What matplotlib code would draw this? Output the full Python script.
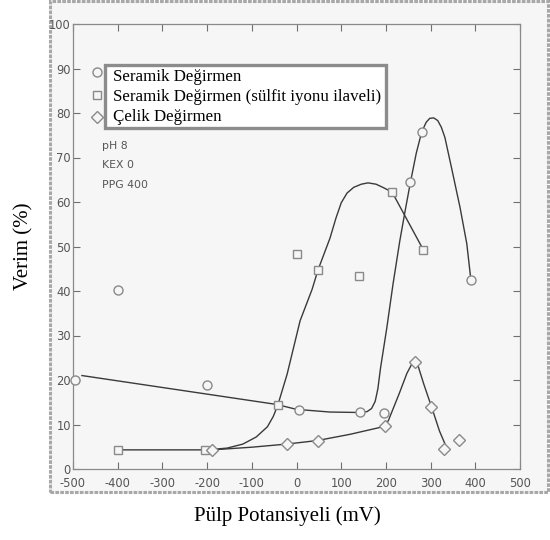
#!/usr/bin/env python3
import matplotlib
matplotlib.use("Agg")
import matplotlib.pyplot as plt
from matplotlib.patches import Rectangle

# ------------------------
# Measured points (read off the scanned figure)
# ------------------------
seramik_x = [-495, -400, -200, 5, 143, 196, 254, 280, 390]
seramik_y = [20.0, 40.3, 18.9, 13.3, 12.8, 12.5, 64.5, 75.7, 42.5]

sulfit_x = [-400, -205, -42, 0, 48, 140, 214, 284]
sulfit_y = [4.2, 4.2, 14.3, 48.4, 44.7, 43.4, 62.2, 49.2]

celik_x = [-188, -22, 48, 198, 266, 301, 330, 364]
celik_y = [4.3, 5.7, 6.4, 9.6, 24.0, 14.0, 4.5, 6.5]

# hand drawn trend curves
seramik_curve_x = [-480, -44, 0, 75, 140, 158, 168, 176, 182, 188, 202, 216,
                   231, 243, 255, 268, 280, 290, 298, 307, 316, 324, 332,
                   347, 366, 381, 389]
seramik_curve_y = [21.0, 14.5, 13.4, 12.8, 12.7, 12.9, 13.6, 15.2, 18.0, 22.7,
                   31.7, 41.6, 51.2, 58.0, 64.5, 71.0, 75.7, 77.9, 78.8, 78.9,
                   78.3, 76.8, 74.5, 67.6, 58.7, 50.6, 43.5]

sulfit_curve_x = [-400, -200, -155, -120, -90, -65, -52, -42, -21, 8, 35, 48,
                  75, 88, 100, 113, 128, 145, 160, 178, 195, 214, 284]
sulfit_curve_y = [4.3, 4.3, 4.7, 5.6, 7.2, 9.5, 11.8, 14.3, 21.3, 33.3, 40.4,
                  44.7, 51.9, 56.3, 59.8, 62.0, 63.3, 64.0, 64.3, 64.0, 63.2,
                  62.2, 49.2]

celik_curve_x = [-189, -100, -22, 47, 120, 198, 206, 214, 230, 247, 257, 264,
                 270, 285, 303, 320, 337]
celik_curve_y = [4.3, 4.9, 5.6, 6.4, 7.8, 9.6, 11.0, 13.0, 17.0, 21.5, 23.4,
                 24.1, 23.8, 19.0, 13.7, 8.5, 4.5]

legend_labels = ["Seramik Değirmen",
                 "Seramik Değirmen (sülfit iyonu ilaveli)",
                 "Çelik Değirmen"]
cond_labels = ["pH 8", "KEX 0", "PPG 400"]

xticks = list(range(-500, 501, 100))
yticks = list(range(0, 101, 10))

LINE = "#3a3a3a"
MARK = "#8a8a8a"
TICK = "#707070"
PAPER = "#f6f6f6"


def main():
    fig = plt.figure(figsize=(5.5, 5.4), dpi=100)

    # scanned paper area with its grey border
    fig.patches.append(Rectangle((50 / 550, 1 - 492 / 540), 498 / 550, 491 / 540,
                                 transform=fig.transFigure, facecolor=PAPER,
                                 edgecolor="#a8a8a8", linewidth=2.2,
                                 linestyle=(0, (1.2, 0.4)), zorder=-10))

    ax = fig.add_axes([73 / 550, 1 - 469 / 540, 447 / 550, 445 / 540])
    ax.set_zorder(1)
    ax.set_facecolor(PAPER)

    # ------------------------
    # curves
    # ------------------------
    kw = dict(color=LINE, linewidth=1.0, zorder=2)
    ax.plot(seramik_curve_x, seramik_curve_y, **kw)
    ax.plot(sulfit_curve_x, sulfit_curve_y, **kw)
    ax.plot(celik_curve_x, celik_curve_y, **kw)

    # ------------------------
    # markers
    # ------------------------
    mk = dict(linestyle="none", markerfacecolor=PAPER, markeredgecolor=MARK,
              markeredgewidth=1.0, zorder=3, clip_on=False)
    ax.plot(seramik_x, seramik_y, marker="o", markersize=6.5, **mk)
    ax.plot(sulfit_x, sulfit_y, marker="s", markersize=6.2, **mk)
    ax.plot(celik_x, celik_y, marker="D", markersize=6.2, **mk)

    ax.set_xlim(-500, 500)
    ax.set_ylim(0, 100)

    ax.set_xticks(xticks)
    ax.set_yticks(yticks)
    ax.set_xticklabels([str(v) for v in xticks])
    ax.set_yticklabels([str(v) for v in yticks])
    ax.tick_params(direction="in", length=5, width=0.8, color=TICK,
                   labelcolor="#555555", labelsize=8.3,
                   top=True, right=True)
    ax.tick_params(axis="y", pad=1.5)
    ax.tick_params(axis="x", pad=5.5)
    for s in ax.spines.values():
        s.set_color("#8a8a8a")
        s.set_linewidth(0.9)

    # ------------------------
    # legend (box with markers outside on the left)
    # ------------------------
    ax.add_patch(Rectangle((0.0716, 0.766), 0.628, 0.142, transform=ax.transAxes,
                           facecolor="white", edgecolor="#8c8c8c", linewidth=2.4,
                           zorder=5, clip_on=False))
    leg_marker = ["o", "s", "D"]
    leg_marker_y = [0.892, 0.840, 0.791]
    leg_text_y = [0.873, 0.828, 0.783]
    for m, ym, yt, lab in zip(leg_marker, leg_marker_y, leg_text_y, legend_labels):
        ax.plot([0.054], [ym], marker=m, markersize=6.5 if m == "o" else 6.2,
                linestyle="none", markerfacecolor=PAPER, markeredgecolor=MARK,
                markeredgewidth=1.0, transform=ax.transAxes, zorder=6,
                clip_on=False)
        ax.text(0.090, yt, lab, transform=ax.transAxes, fontsize=12.2,
                family="Liberation Serif", color="black", va="baseline",
                ha="left", zorder=6)

    for yt, lab in zip([0.726, 0.683, 0.638], cond_labels):
        ax.text(0.065, yt, lab, transform=ax.transAxes, fontsize=7.8,
                color="#555555", va="center", ha="left")

    fig.text(24 / 550, 1 - 246 / 540, "Verim (%)", rotation=90, fontsize=15,
             family="Liberation Serif", ha="center", va="center")
    fig.text(287 / 550, 1 - 516 / 540, "Pülp Potansiyeli (mV)", fontsize=15,
             family="Liberation Serif", ha="center", va="center")

    fig.savefig("out.png", dpi=100)


if __name__ == "__main__":
    main()
